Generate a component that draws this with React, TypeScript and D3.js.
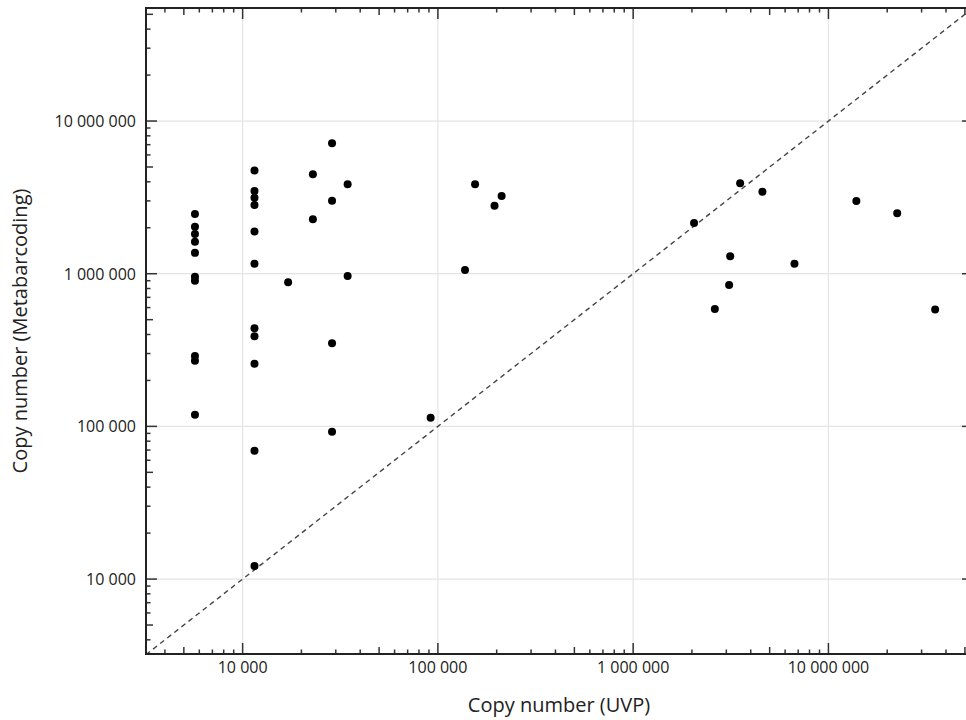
import React from "react";
import * as d3 from "d3";

// UVP copy number (x) vs Metabarcoding copy number (y)
const uvpValues: number[] = [
  5700, 5700, 5700, 5700, 5700, 5700, 5700, 5700, 5700, 5700,
  11500, 11500, 11500, 11500, 11500, 11500, 11500, 11500, 11500, 11500, 11500,
  22900, 22900, 28700, 28700, 34500, 34500, 17100, 28700, 28700,
  155000, 212000, 195000, 137700, 91800,
  3530000, 4590000, 2050000, 3140000, 6700000, 3100000, 2620000,
  13900000, 22500000, 35200000,
];
const metaValues: number[] = [
  2460000, 2030000, 1820000, 1620000, 1370000, 955000, 900000, 289000, 269000, 119000,
  4750000, 3480000, 3150000, 2820000, 1890000, 1160000, 440000, 390000, 257000, 69300, 12200,
  4480000, 2270000, 7140000, 3000000, 3850000, 965000, 878000, 350000, 92300,
  3850000, 3230000, 2790000, 1057000, 114000,
  3910000, 3440000, 2150000, 1300000, 1160000, 843000, 587000,
  2990000, 2490000, 584000,
];

const majorTicks: number[] = [10000, 100000, 1000000, 10000000];
const xTitle = "Copy number (UVP)";
const yTitle = "Copy number (Metabarcoding)";

const W = 966;
const H = 720;
const left = 146;
const top = 8;
const right = 973;
const bottom = 654;

const fmt = (v: number) => d3.format(",")(v).replace(/,/g, " ");

export default function App() {
  const x = d3.scaleLog().domain([3200, 5.5e7]).range([left, right]);
  const y = d3.scaleLog().domain([3230, 5.5e7]).range([bottom, top]);

  const minor: { v: number; mid: boolean }[] = [];
  for (let e = 3; e <= 7; e++) {
    for (let m = 2; m <= 9; m++) {
      minor.push({ v: m * Math.pow(10, e), mid: m === 5 });
    }
  }
  const xMinor = minor.filter((t) => t.v > x.domain()[0] && t.v < x.domain()[1]);
  const yMinor = minor.filter((t) => t.v > y.domain()[0] && t.v < y.domain()[1]);

  const major = 11;
  const mid = 7;
  const small = 4.5;
  const tickColor = "#333";
  const font = "'Open Sans', 'DejaVu Sans', sans-serif";

  const lo = Math.min(x.domain()[0], y.domain()[0]);
  const hi = Math.max(x.domain()[1], y.domain()[1]);

  return (
    <svg
      width={W}
      height={H}
      style={{ position: "absolute", left: 0, top: 0, background: "#fff" }}
    >
      <defs>
        <clipPath id="plot">
          <rect x={left} y={top} width={right - left} height={bottom - top} />
        </clipPath>
      </defs>
      <rect x={0} y={0} width={W} height={H} fill="#fff" />
      {/* grid */}
      <g stroke="#e4e4e4" strokeWidth={1.2}>
        {majorTicks.map((t) => (
          <line key={"gx" + t} x1={x(t)} x2={x(t)} y1={top} y2={bottom} />
        ))}
        {majorTicks.map((t) => (
          <line key={"gy" + t} x1={left} x2={right} y1={y(t)} y2={y(t)} />
        ))}
      </g>
      {/* diagonal 1:1 line */}
      <g clipPath="url(#plot)">
        <line
          x1={x(lo)}
          y1={y(lo)}
          x2={x(hi)}
          y2={y(hi)}
          stroke="#444"
          strokeWidth={1.4}
          strokeDasharray="5,4"
        />
        {uvpValues.map((u, i) => (
          <circle key={i} cx={x(u)} cy={y(metaValues[i])} r={4} fill="#000" />
        ))}
      </g>
      {/* ticks */}
      <g stroke={tickColor} strokeWidth={1.5}>
        {majorTicks.map((t) => (
          <g key={"tx" + t}>
            <line x1={x(t)} x2={x(t)} y1={bottom} y2={bottom - major} />
            <line x1={x(t)} x2={x(t)} y1={top} y2={top + major} />
          </g>
        ))}
        {xMinor.map((t) => (
          <g key={"mx" + t.v}>
            <line x1={x(t.v)} x2={x(t.v)} y1={bottom} y2={bottom - (t.mid ? mid : small)} />
            <line x1={x(t.v)} x2={x(t.v)} y1={top} y2={top + (t.mid ? mid : small)} />
          </g>
        ))}
        {majorTicks.map((t) => (
          <g key={"ty" + t}>
            <line x1={left} x2={left + major} y1={y(t)} y2={y(t)} />
            <line x1={right} x2={right - major} y1={y(t)} y2={y(t)} />
          </g>
        ))}
        {yMinor.map((t) => (
          <g key={"my" + t.v}>
            <line x1={left} x2={left + (t.mid ? mid : small)} y1={y(t.v)} y2={y(t.v)} />
            <line x1={right} x2={right - (t.mid ? mid : small)} y1={y(t.v)} y2={y(t.v)} />
          </g>
        ))}
      </g>
      {/* frame */}
      <rect
        x={left}
        y={top}
        width={right - left}
        height={bottom - top}
        fill="none"
        stroke="#222"
        strokeWidth={2}
      />
      {/* tick labels */}
      <g fontFamily={font} fontSize={16} fill="#222">
        {majorTicks.map((t) => (
          <text key={"lx" + t} x={x(t)} y={bottom + 19} textAnchor="middle">
            {fmt(t)}
          </text>
        ))}
        {majorTicks.map((t) => (
          <text key={"ly" + t} x={left - 10} y={y(t) + 6} textAnchor="end">
            {fmt(t)}
          </text>
        ))}
      </g>
      {/* axis titles */}
      <text
        x={559}
        y={712}
        textAnchor="middle"
        fontFamily={font}
        fontSize={20}
        fill="#222"
      >
        {xTitle}
      </text>
      <text
        transform={`translate(27, ${331}) rotate(-90)`}
        textAnchor="middle"
        fontFamily={font}
        fontSize={20}
        fill="#222"
      >
        {yTitle}
      </text>
    </svg>
  );
}
